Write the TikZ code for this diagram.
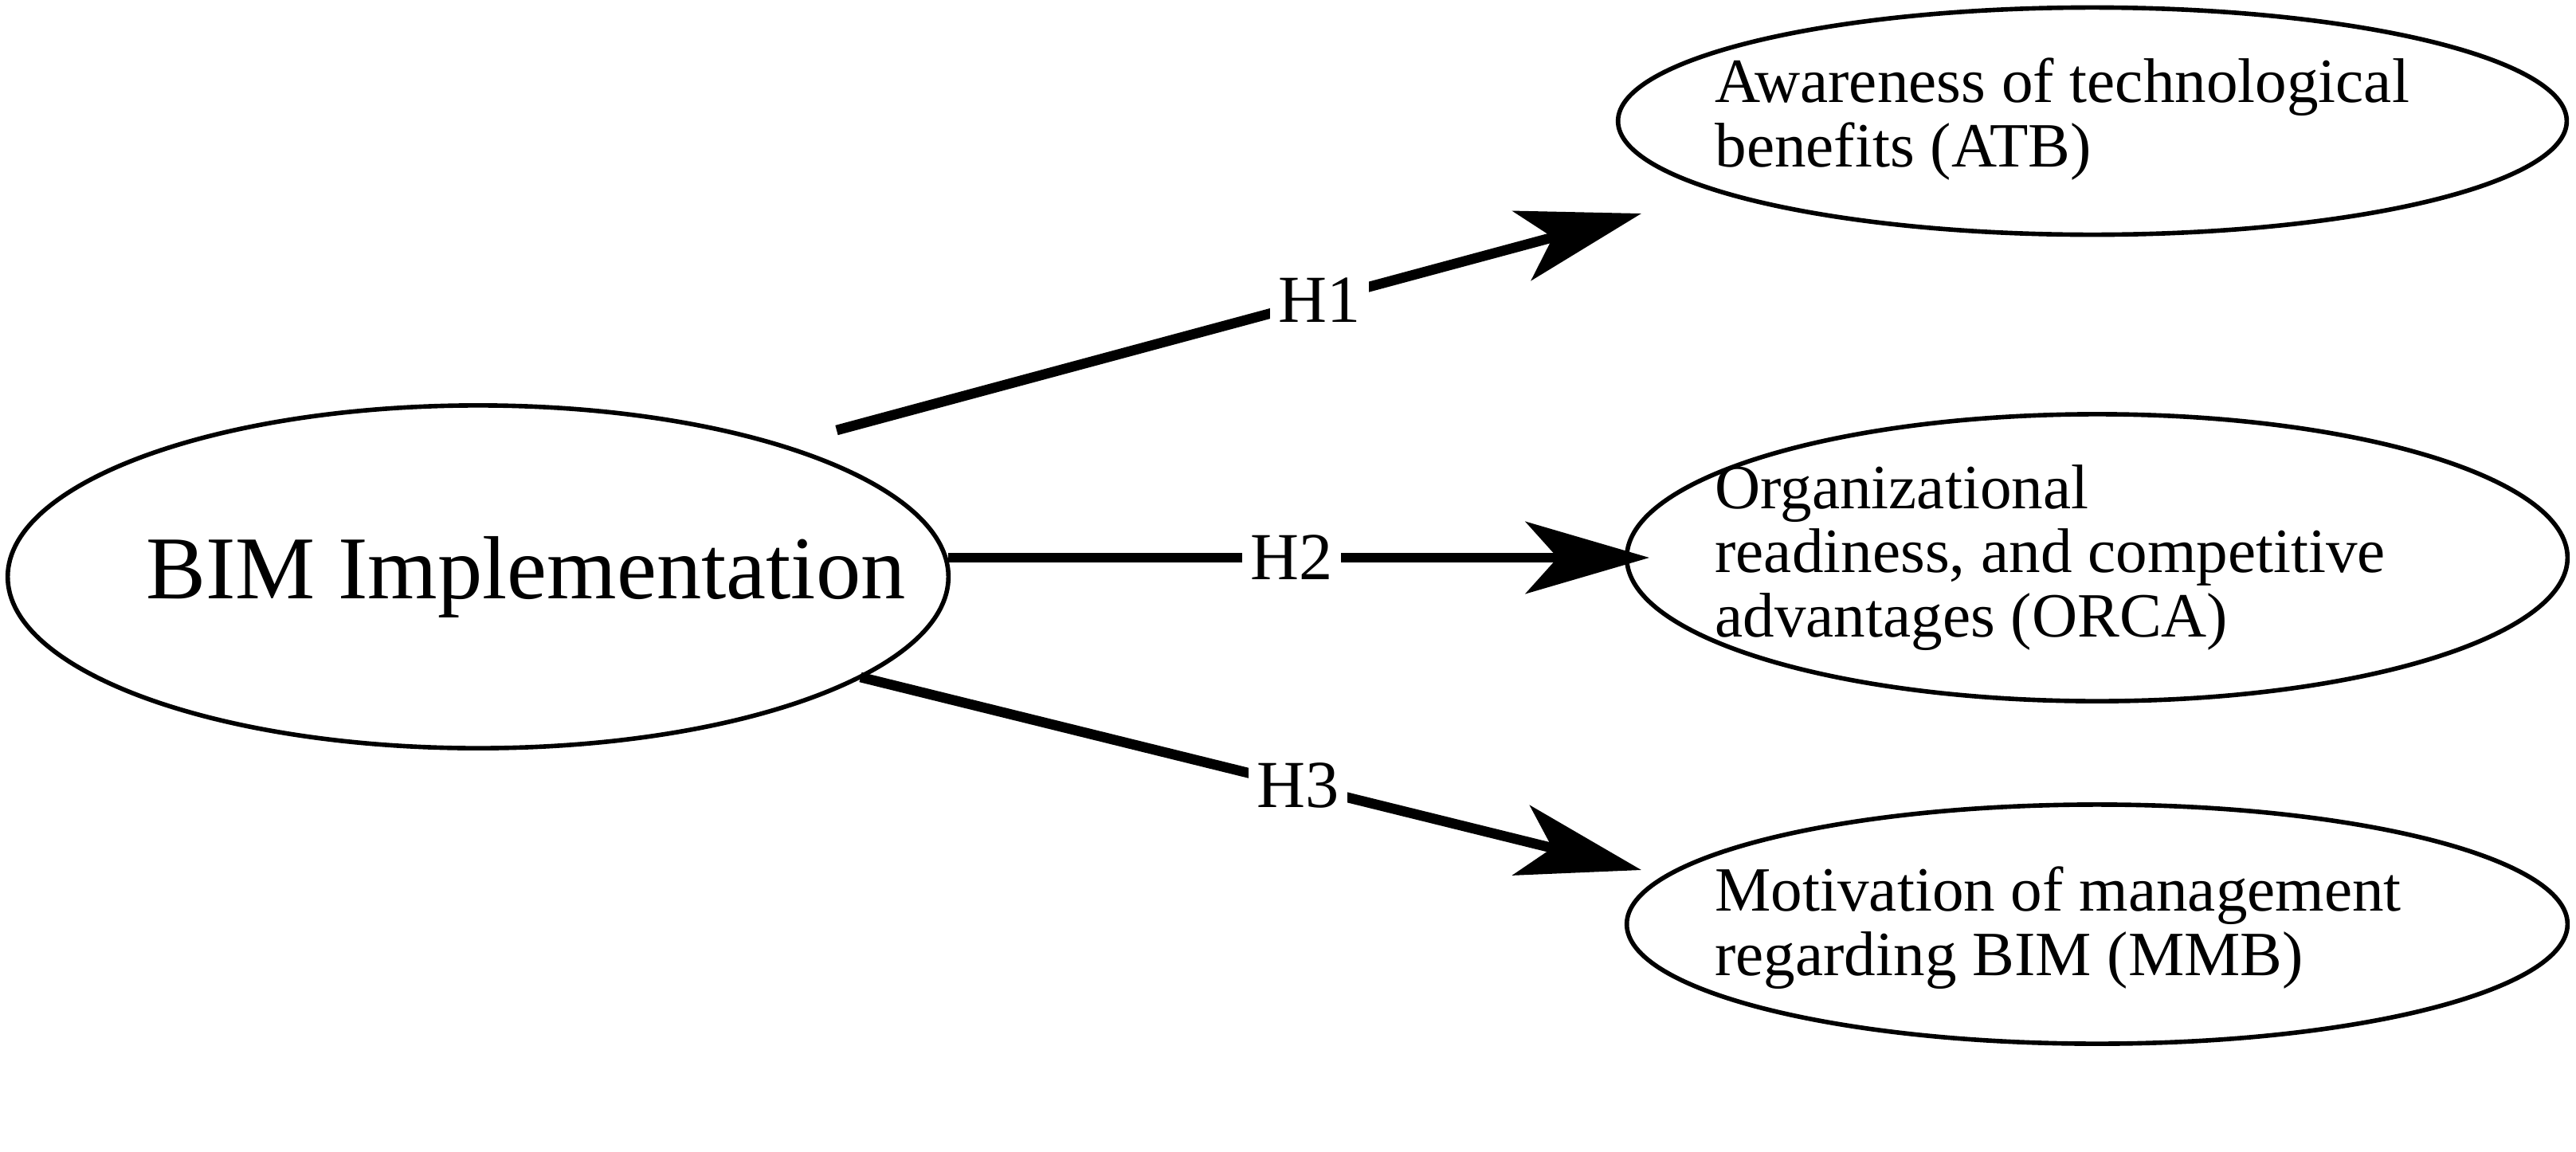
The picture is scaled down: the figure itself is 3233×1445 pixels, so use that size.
\documentclass[tikz,border=0pt]{standalone}
\usepackage{fontspec}
\setmainfont{Liberation Serif}
\usetikzlibrary{arrows.meta,shapes.geometric}
\begin{document}
\begin{tikzpicture}[x=0.01cm,y=-0.01cm,
 ell/.style={draw,line width=1.6pt,ellipse,inner sep=0pt},
 conn/.style={line width=3.6pt,-{Stealth[length=1.55cm,width=0.9cm,inset=0.4cm]}},
 lab/.style={fill=white,inner sep=3pt,font=\fontsize{24}{24}\selectfont},
 rtxt/.style={align=left,anchor=west,font=\fontsize{22.5}{23}\selectfont}]
\useasboundingbox (0,0) rectangle (3233,1445);
\node[ell,minimum width=11.8cm,minimum height=4.3cm] (bim) at (600,724) {};
\node[font=\fontsize{32}{32}\selectfont] at (660,724) {BIM Implementation};
\node[ell,minimum width=11.9cm,minimum height=2.85cm] (atb) at (2626,152) {};
\node[ell,minimum width=11.8cm,minimum height=3.6cm] (orca) at (2632,700) {};
\node[ell,minimum width=11.8cm,minimum height=3.0cm] (mmb) at (2632,1160) {};
\node[rtxt] at (2140,150) {Awareness of technological\\benefits (ATB)};
\node[rtxt] at (2140,700) {Organizational\\readiness, and competitive\\advantages (ORCA)};
\node[rtxt] at (2140,1165) {Motivation of management\\regarding BIM (MMB)};
\coordinate (s1) at (1050,540); \coordinate (e1) at (2060,268);
\coordinate (s2) at (1190,700); \coordinate (e2) at (2070,700);
\coordinate (s3) at (1080,850); \coordinate (e3) at (2060,1092);
\draw[conn] (s1) -- node[lab,pos=0.6]{H1} (e1);
\draw[conn] (s2) -- node[lab,pos=0.49]{H2} (e2);
\draw[conn] (s3) -- node[lab,pos=0.56]{H3} (e3);
\end{tikzpicture}
\end{document}
